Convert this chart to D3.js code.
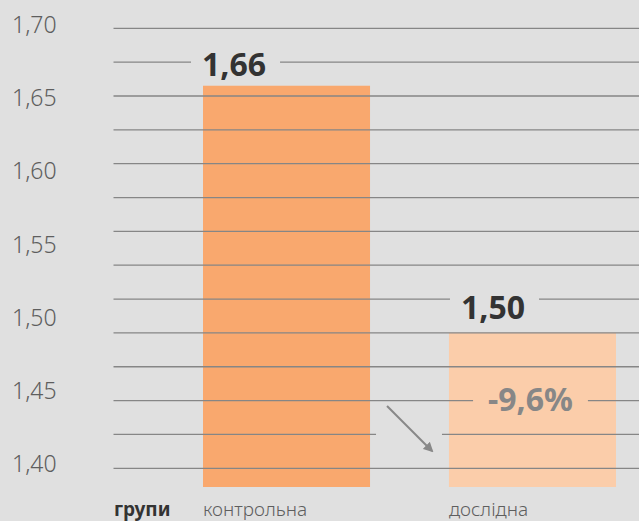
<!DOCTYPE html>
<html>
<head>
<meta charset="utf-8">
<script src="https://cdn.jsdelivr.net/npm/d3@7"></script>
<style>
    html, body { margin: 0; padding: 0; background: #e0e0e0; }
    svg { display: block; font-family: "Noto Sans", "Open Sans", sans-serif; }
</style>
</head>
<body>
<div id="chart"></div>
<script>

// data
let groups = ["контрольна", "дослідна"];
let values = [1.66, 1.50];
let valueLabels = ["1,66", "1,50"];
let changeLabel = "-9,6%";
let tickValues = [1.70, 1.65, 1.60, 1.55, 1.50, 1.45, 1.40];
let tickLabels = ["1,70", "1,65", "1,60", "1,55", "1,50", "1,45", "1,40"];
let axisTitle = "групи";
let barColors = ["#f9a86e", "#fbcdaa"];

let width = 639, height = 521;

let svg = d3.select("#chart").append("svg")
    .attr("width", width)
    .attr("height", height);

svg.append("rect")
    .attr("width", width)
    .attr("height", height)
    .attr("fill", "#e0e0e0");

// scales
let x = d3.scaleBand()
    .domain(groups)
    .range([203, 616])
    .paddingInner(0.321)
    .paddingOuter(0);

let y = d3.scaleLinear()
    .domain([1.40, 1.70])
    .range([487, 24]);

// the tick labels sit on their own evenly spaced scale
let yTicks = d3.scaleLinear()
    .domain([1.40, 1.70])
    .range([472, 33]);

// decorative ruled lines
let ruleCount = 14;
let rule = d3.scaleLinear().domain([0, ruleCount - 1]).range([28.3, 468.3]);

// bars
svg.selectAll(".bar")
    .data(values)
    .enter().append("rect")
    .attr("class", "bar")
    .attr("x", (d, i) => x(groups[i]))
    .attr("width", x.bandwidth())
    .attr("y", d => y(d))
    .attr("height", d => y(1.40) - y(d))
    .attr("fill", (d, i) => barColors[i]);

// y tick labels
svg.selectAll(".tick-label")
    .data(tickValues)
    .enter().append("text")
    .attr("class", "tick-label")
    .attr("x", 12)
    .attr("y", d => yTicks(d))
    .attr("font-size", 23)
    .attr("font-weight", 300)
    .attr("fill", "#5e5e5e")
    .text((d, i) => tickLabels[i]);

// value labels
let valueOffsets = [-1, 12];
let valueText = svg.selectAll(".value")
    .data(values)
    .enter().append("text")
    .attr("class", "value")
    .attr("x", (d, i) => x(groups[i]) + valueOffsets[i])
    .attr("y", (d, i) => i === 0 ? y(d) - 10 : y(d) - 14)
    .attr("font-size", 32)
    .attr("font-weight", 700)
    .attr("fill", "#333333")
    .text((d, i) => valueLabels[i]);

// change label
let changeText = svg.append("text")
    .attr("x", x(groups[1]) + x.bandwidth() / 2 - 2)
    .attr("y", 411)
    .attr("text-anchor", "middle")
    .attr("font-size", 32)
    .attr("font-weight", 700)
    .attr("fill", "#878787")
    .text(changeLabel);

// arrow between bars
let ax0 = x(groups[0]) + x.bandwidth() + 17;
let ax1 = x(groups[1]) - 17;
let ay0 = 406, ay1 = ay0 + (ax1 - ax0);

svg.append("defs").append("marker")
    .attr("id", "arrow")
    .attr("viewBox", "0 0 10 10")
    .attr("refX", 8)
    .attr("refY", 5)
    .attr("markerWidth", 5)
    .attr("markerHeight", 5)
    .attr("orient", "auto")
    .append("path")
    .attr("d", "M0,0 L10,5 L0,10 Z")
    .attr("fill", "#888888");

svg.append("line")
    .attr("x1", ax0).attr("y1", ay0)
    .attr("x2", ax1).attr("y2", ay1)
    .attr("stroke", "#888888")
    .attr("stroke-width", 2)
    .attr("marker-end", "url(#arrow)");

// gaps in the rules around labels and arrow
let gaps = [];
valueText.each(function () {
    let b = this.getBBox();
    gaps.push({cy: b.y + b.height / 2, x0: b.x - 11, x1: b.x + b.width + 14});
});
let cb = changeText.node().getBBox();
gaps.push({cy: cb.y + cb.height / 2, x0: cb.x - 15, x1: cb.x + cb.width + 15});
gaps.push({cy: (ay0 + ay1) / 2, x0: ax0 - 11, x1: ax1 + 10});

let ruleStart = 113.5;
d3.range(ruleCount).forEach(i => {
    let ry = rule(i);
    let segs = [[ruleStart, width]];
    gaps.forEach(g => {
        let nearest = d3.least(d3.range(ruleCount), j => Math.abs(rule(j) - g.cy));
        if (nearest === i) {
            segs = [[ruleStart, g.x0], [g.x1, width]];
        }
    });
    segs.forEach(s => {
        svg.append("line")
            .attr("x1", s[0]).attr("x2", s[1])
            .attr("y1", ry).attr("y2", ry)
            .attr("stroke", "#868686")
            .attr("stroke-width", 1.3);
    });
});

// x labels
svg.append("text")
    .attr("x", 114)
    .attr("y", 516)
    .attr("font-size", 19)
    .attr("font-weight", 700)
    .attr("fill", "#333333")
    .text(axisTitle);

svg.selectAll(".x-label")
    .data(groups)
    .enter().append("text")
    .attr("class", "x-label")
    .attr("x", d => x(d))
    .attr("y", 516)
    .attr("font-size", 19)
    .attr("font-weight", 300)
    .attr("fill", "#5e5e5e")
    .text(d => d);

</script>
</body>
</html>
